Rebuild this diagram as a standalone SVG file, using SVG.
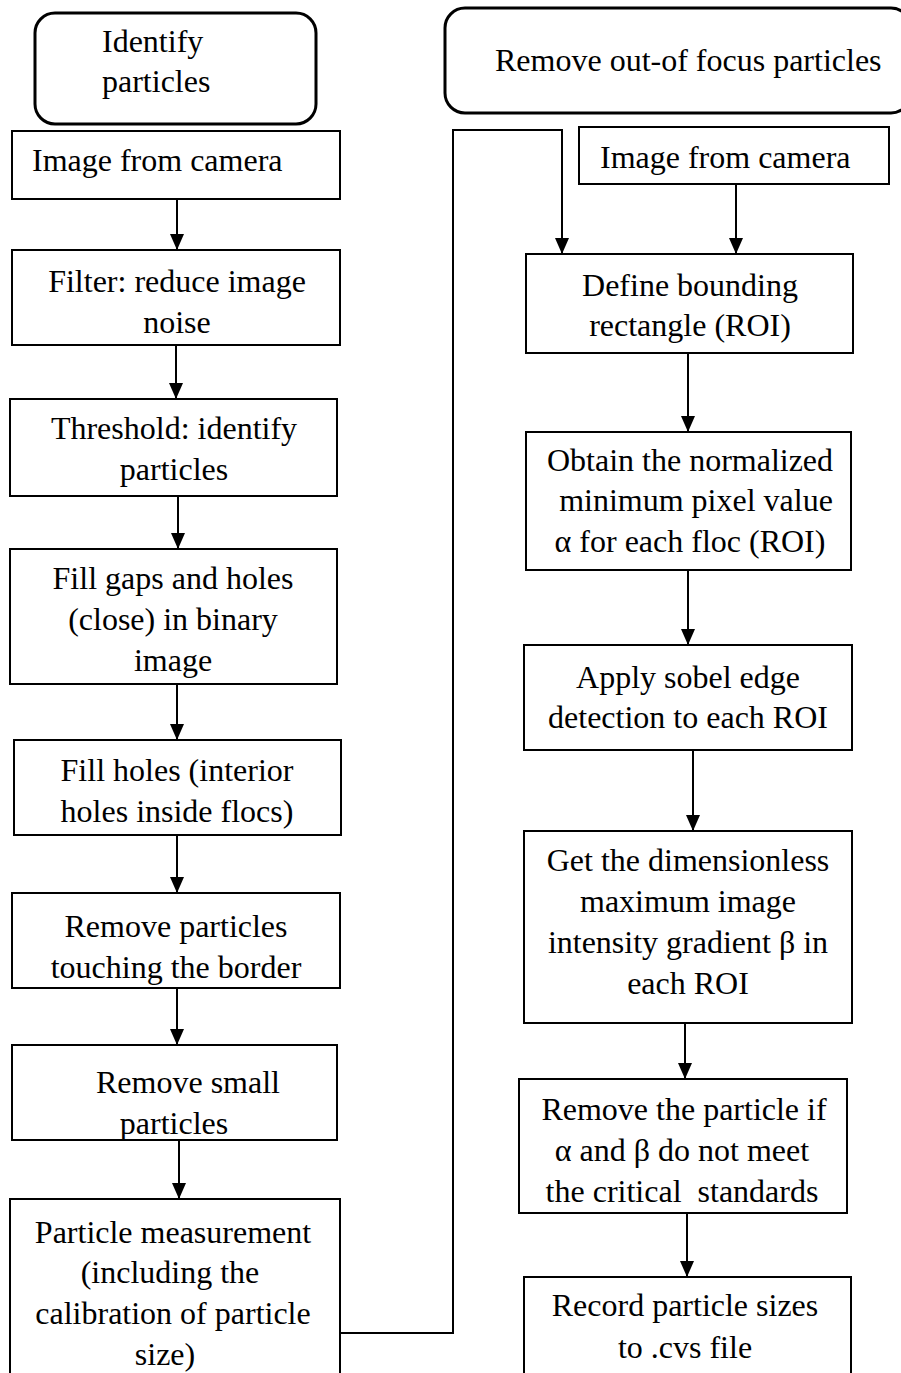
<svg xmlns="http://www.w3.org/2000/svg" width="901" height="1373" viewBox="0 0 901 1373" font-family="Liberation Serif, serif">
<style>
  .box { fill: #fff; stroke: #000; stroke-width: 2; }
  .rbox { fill: #fff; stroke: #000; stroke-width: 3; }
  .t { font-size: 32px; fill: #000; }
  .c { text-anchor: middle; }
  .ln { fill: none; stroke: #000; stroke-width: 2; }
</style>
<defs>
  <marker id="ah" markerUnits="userSpaceOnUse" markerWidth="16" markerHeight="14" refX="16" refY="7" orient="auto">
    <path d="M0,0 L16,7 L0,14 z" fill="#000"/>
  </marker>
</defs>
<rect width="901" height="1373" fill="#fff"/>

<g id="connectors">
  <line class="ln" x1="177" y1="199" x2="177" y2="250" marker-end="url(#ah)"/>
  <line class="ln" x1="176" y1="345" x2="176" y2="399" marker-end="url(#ah)"/>
  <line class="ln" x1="178" y1="496" x2="178" y2="549" marker-end="url(#ah)"/>
  <line class="ln" x1="177" y1="684" x2="177" y2="740" marker-end="url(#ah)"/>
  <line class="ln" x1="177" y1="835" x2="177" y2="893" marker-end="url(#ah)"/>
  <line class="ln" x1="177" y1="988" x2="177" y2="1045" marker-end="url(#ah)"/>
  <line class="ln" x1="179" y1="1140" x2="179" y2="1199" marker-end="url(#ah)"/>
  <polyline class="ln" points="340,1333 453,1333 453,130 562,130 562,254" marker-end="url(#ah)"/>
  <line class="ln" x1="736" y1="184" x2="736" y2="254" marker-end="url(#ah)"/>
  <line class="ln" x1="688" y1="353" x2="688" y2="432" marker-end="url(#ah)"/>
  <line class="ln" x1="688" y1="570" x2="688" y2="645" marker-end="url(#ah)"/>
  <line class="ln" x1="693" y1="750" x2="693" y2="831" marker-end="url(#ah)"/>
  <line class="ln" x1="685" y1="1023" x2="685" y2="1079" marker-end="url(#ah)"/>
  <line class="ln" x1="687" y1="1213" x2="687" y2="1277" marker-end="url(#ah)"/>
</g>

<g id="n-identify">
  <rect class="rbox" x="35" y="13" width="281" height="111" rx="20"/>
  <text class="t" x="102" y="52">Identify</text>
  <text class="t" x="102" y="92">particles</text>
</g>
<g id="n-image-left">
  <rect class="box" x="12" y="131" width="328" height="68"/>
  <text class="t" x="32" y="171">Image from camera</text>
</g>
<g id="n-filter">
  <rect class="box" x="12" y="250" width="328" height="95"/>
  <text class="t c" x="177" y="292">Filter: reduce image</text>
  <text class="t c" x="177" y="333">noise</text>
</g>
<g id="n-threshold">
  <rect class="box" x="10" y="399" width="327" height="97"/>
  <text class="t c" x="174" y="439">Threshold: identify</text>
  <text class="t c" x="174" y="480">particles</text>
</g>
<g id="n-fillgaps">
  <rect class="box" x="10" y="549" width="327" height="135"/>
  <text class="t c" x="173" y="589">Fill gaps and holes</text>
  <text class="t c" x="173" y="630">(close) in binary</text>
  <text class="t c" x="173" y="671">image</text>
</g>
<g id="n-fillholes">
  <rect class="box" x="14" y="740" width="327" height="95"/>
  <text class="t c" x="177" y="781">Fill holes (interior</text>
  <text class="t c" x="177" y="822">holes inside flocs)</text>
</g>
<g id="n-border">
  <rect class="box" x="12" y="893" width="328" height="95"/>
  <text class="t c" x="176" y="937">Remove particles</text>
  <text class="t c" x="176" y="978">touching the border</text>
</g>
<g id="n-small">
  <rect class="box" x="12" y="1045" width="325" height="95"/>
  <text class="t c" x="188" y="1093">Remove small</text>
  <text class="t c" x="174" y="1134">particles</text>
</g>
<g id="n-measure">
  <rect class="box" x="10" y="1199" width="330" height="200"/>
  <text class="t c" x="173" y="1243">Particle measurement</text>
  <text class="t c" x="170" y="1283">(including the</text>
  <text class="t c" x="173" y="1324">calibration of particle</text>
  <text class="t c" x="165" y="1365">size)</text>
</g>

<g id="n-remove-focus">
  <rect class="rbox" x="445" y="8" width="466" height="105" rx="20"/>
  <text class="t" x="495" y="71">Remove out-of focus particles</text>
</g>
<g id="n-image-right">
  <rect class="box" x="579" y="127" width="310" height="57"/>
  <text class="t" x="600" y="168">Image from camera</text>
</g>
<g id="n-define">
  <rect class="box" x="526" y="254" width="327" height="99"/>
  <text class="t c" x="690" y="296">Define bounding</text>
  <text class="t c" x="690" y="336">rectangle (ROI)</text>
</g>
<g id="n-obtain">
  <rect class="box" x="526" y="432" width="325" height="138"/>
  <text class="t c" x="690" y="471">Obtain the normalized</text>
  <text class="t c" x="696" y="511">minimum pixel value</text>
  <text class="t c" x="690" y="552">α for each floc (ROI)</text>
</g>
<g id="n-sobel">
  <rect class="box" x="524" y="645" width="328" height="105"/>
  <text class="t c" x="688" y="688">Apply sobel edge</text>
  <text class="t c" x="688" y="728">detection to each ROI</text>
</g>
<g id="n-gradient">
  <rect class="box" x="524" y="831" width="328" height="192"/>
  <text class="t c" x="688" y="871">Get the dimensionless</text>
  <text class="t c" x="688" y="912">maximum image</text>
  <text class="t c" x="688" y="953">intensity gradient β in</text>
  <text class="t c" x="688" y="994">each ROI</text>
</g>
<g id="n-remove-particle">
  <rect class="box" x="519" y="1079" width="328" height="134"/>
  <text class="t c" x="684" y="1120">Remove the particle if</text>
  <text class="t c" x="682" y="1161">α and β do not meet</text>
  <text class="t c" x="682" y="1202" xml:space="preserve">the critical  standards</text>
</g>
<g id="n-record">
  <rect class="box" x="524" y="1277" width="327" height="120"/>
  <text class="t c" x="685" y="1316">Record particle sizes</text>
  <text class="t c" x="685" y="1358">to .cvs file</text>
</g>
</svg>
